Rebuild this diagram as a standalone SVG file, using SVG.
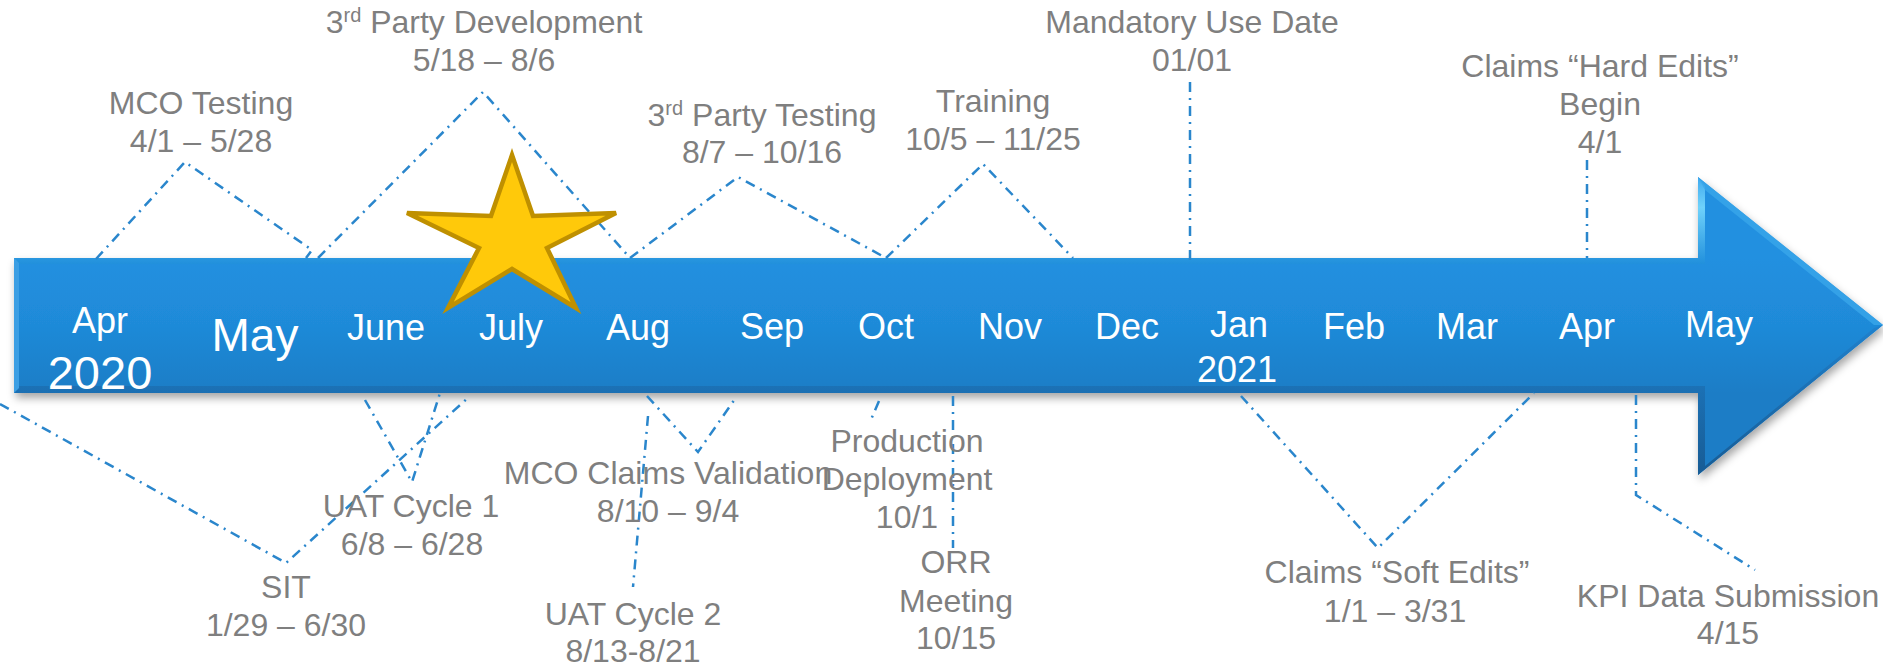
<svg xmlns="http://www.w3.org/2000/svg" width="1883" height="671" viewBox="0 0 1883 671">
<style>
.lbl{font-family:"Liberation Sans",Arial,sans-serif;font-size:32px;fill:#7f7f7f;text-anchor:middle}
.mon{font-family:"Liberation Sans",Arial,sans-serif;font-size:36px;fill:#ffffff;text-anchor:middle}
.con{fill:none;stroke:#2a86cc;stroke-width:2.5;stroke-dasharray:10 6 2 6}
</style>
<defs>
<filter id="sh" x="-5%" y="-20%" width="110%" height="150%">
<feDropShadow dx="2" dy="5" stdDeviation="4" flood-color="#000" flood-opacity="0.35"/>
</filter>
<linearGradient id="topHi" x1="0" y1="0" x2="0" y2="1">
<stop offset="0" stop-color="#3fa9ee"/>
<stop offset="0.35" stop-color="#6fd2fb"/>
<stop offset="1" stop-color="#2190dc"/>
</linearGradient>
<linearGradient id="botDk" x1="0" y1="0" x2="0" y2="1">
<stop offset="0" stop-color="#1f80cc"/>
<stop offset="1" stop-color="#17588f"/>
</linearGradient>
<linearGradient id="body" x1="0" y1="258" x2="0" y2="393" gradientUnits="userSpaceOnUse">
<stop offset="0" stop-color="#2290e0"/>
<stop offset="0.5" stop-color="#1f8ad8"/>
<stop offset="1" stop-color="#1e7dc6"/>
</linearGradient>
</defs>

<g id="timeline-arrow">
<path d="M14,258 L1698,258 L1698,177 L1883,325 L1698,475 L1698,393 L14,393 Z" fill="url(#body)" filter="url(#sh)"/>
<path d="M14,258 L1698,258 L1698,177 L1705,186 L1705,264 L14,264 Z" fill="url(#topHi)"/>
<path d="M1698,177 L1883,325 L1874,325 L1705,190 Z" fill="#3aa6ea" opacity="0.8"/>
<path d="M14,386 L1705,386 L1705,466 L1874,328 L1883,325 L1698,475 L1698,393 L14,393 Z" fill="url(#botDk)" opacity="0.9"/>
<path d="M14,258 L19,263 L19,388 L14,393 Z" fill="#3c9fe4"/>
</g>

<g id="connectors">
<polyline class="con" points="96,259 185,162 312,250 306,258"/>
<polyline class="con" points="318,258 483,92 630,258"/>
<polyline class="con" points="630,258 738,177 886,258"/>
<polyline class="con" points="886,258 983,164 1073,258"/>
<line class="con" x1="1190" y1="82" x2="1190" y2="266"/>
<line class="con" x1="1587" y1="160" x2="1587" y2="258"/>
<polyline class="con" points="0,404 286,563 470,396"/>
<polyline class="con" points="365,400 412,482 440,393"/>
<polyline class="con" points="647,396 698,452 737,396"/>
<line class="con" x1="648" y1="416" x2="633" y2="587"/>
<line class="con" x1="879" y1="401" x2="870" y2="422"/>
<line class="con" x1="953" y1="396" x2="953" y2="548"/>
<polyline class="con" points="1241,396 1378,548 1534,393"/>
<polyline class="con" points="1636,395 1636,495 1755,570"/>
</g>

<g id="months">
<text class="mon" x="100" y="333">Apr</text>
<text class="mon" x="100" y="389" style="font-size:47px">2020</text>
<text class="mon" x="255" y="351" style="font-size:46px">May</text>
<text class="mon" x="386" y="340">June</text>
<text class="mon" x="511" y="340">July</text>
<text class="mon" x="638" y="340">Aug</text>
<text class="mon" x="772" y="339">Sep</text>
<text class="mon" x="886" y="339">Oct</text>
<text class="mon" x="1010" y="339">Nov</text>
<text class="mon" x="1127" y="339">Dec</text>
<text class="mon" x="1239" y="337">Jan</text>
<text class="mon" x="1237" y="382">2021</text>
<text class="mon" x="1354" y="339">Feb</text>
<text class="mon" x="1467" y="339">Mar</text>
<text class="mon" x="1587" y="339">Apr</text>
<text class="mon" x="1719" y="337">May</text>
</g>

<g id="star">
<polygon points="512,155 533,216 616,213 547,248 576,308 512,269 448,308 479,248 407,213 491,216" fill="#ffc90a" stroke="#bf9000" stroke-width="4.5" stroke-linejoin="miter"/>
</g>

<g id="mco-testing">
<text class="lbl" x="201" y="114">MCO Testing</text>
<text class="lbl" x="201" y="152">4/1 – 5/28</text>
</g>
<g id="third-party-development">
<text class="lbl" x="484" y="33">3<tspan font-size="20" dy="-11">rd</tspan><tspan dy="11"> Party Development</tspan></text>
<text class="lbl" x="484" y="71">5/18 – 8/6</text>
</g>
<g id="third-party-testing">
<text class="lbl" x="762" y="126">3<tspan font-size="20" dy="-11">rd</tspan><tspan dy="11"> Party Testing</tspan></text>
<text class="lbl" x="762" y="163">8/7 – 10/16</text>
</g>
<g id="training">
<text class="lbl" x="993" y="112">Training</text>
<text class="lbl" x="993" y="150">10/5 – 11/25</text>
</g>
<g id="mandatory-use-date">
<text class="lbl" x="1192" y="33">Mandatory Use Date</text>
<text class="lbl" x="1192" y="71">01/01</text>
</g>
<g id="hard-edits">
<text class="lbl" x="1600" y="77">Claims “Hard Edits”</text>
<text class="lbl" x="1600" y="115">Begin</text>
<text class="lbl" x="1600" y="153">4/1</text>
</g>
<g id="sit">
<text class="lbl" x="286" y="598">SIT</text>
<text class="lbl" x="286" y="636">1/29 – 6/30</text>
</g>
<g id="uat-cycle-1">
<text class="lbl" x="411" y="517">UAT Cycle 1</text>
<text class="lbl" x="412" y="555">6/8 – 6/28</text>
</g>
<g id="mco-claims-validation">
<text class="lbl" x="668" y="484">MCO Claims Validation</text>
<text class="lbl" x="668" y="522">8/10 – 9/4</text>
</g>
<g id="uat-cycle-2">
<text class="lbl" x="633" y="625">UAT Cycle 2</text>
<text class="lbl" x="633" y="662">8/13-8/21</text>
</g>
<g id="production-deployment">
<text class="lbl" x="907" y="452">Production</text>
<text class="lbl" x="907" y="490">Deployment</text>
<text class="lbl" x="907" y="528">10/1</text>
</g>
<g id="orr-meeting">
<text class="lbl" x="956" y="573">ORR</text>
<text class="lbl" x="956" y="612">Meeting</text>
<text class="lbl" x="956" y="649">10/15</text>
</g>
<g id="soft-edits">
<text class="lbl" x="1397" y="583">Claims “Soft Edits”</text>
<text class="lbl" x="1395" y="622">1/1 – 3/31</text>
</g>
<g id="kpi-data-submission">
<text class="lbl" x="1728" y="607">KPI Data Submission</text>
<text class="lbl" x="1728" y="644">4/15</text>
</g>
</svg>
